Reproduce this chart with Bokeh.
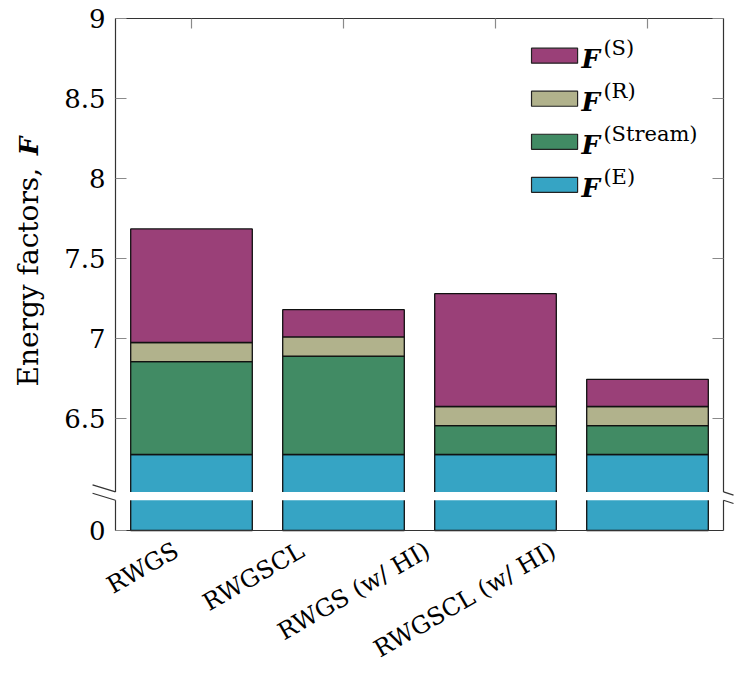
import math

from bokeh.core.properties import value
from bokeh.embed import file_html
from bokeh.models import (ColumnDataSource, FixedTicker, Label, LinearAxis,
                          Range1d)
from bokeh.plotting import figure
from bokeh.resources import INLINE

# ---- data -----------------------------------------------------------------
categories = ["RWGS", "RWGSCL", "RWGS (w/ HI)", "RWGSCL (w/ HI)"]

# stacked from the bottom up
series_keys = ["E", "Stream", "R", "S"]
f_e = [6.275, 6.275, 6.275, 6.275]
f_stream = [0.58, 0.615, 0.18, 0.18]
f_r = [0.12, 0.12, 0.12, 0.12]
f_s = [0.71, 0.17, 0.705, 0.17]
series_colors = ["#36A4C4", "#418B64", "#B1B28C", "#9A4078"]

y_ticks = [6.5, 7, 7.5, 8, 8.5, 9]
y_tick_labels = ["6.5", "7", "7.5", "8", "8.5", "9"]

# ---- broken axis ------------------------------------------------------------
Y_FLOOR = 5.8      # where a value of 0 is drawn
Y_TOP = 9.0
BREAK_LO, BREAK_HI = 5.989, 6.041   # gap in the axis
X_LO, X_HI = -0.5, 3.5


def to_axis(v):
    """Values below 6 are squeezed into the strip under the break."""
    return v if v >= 6.0 else Y_FLOOR + v * (6.0 - Y_FLOOR) / 6.0


# The drawing area covers the whole canvas; the axes are pinned to the box
# edges so that the break strokes can poke out past the box.
W, H = 735, 673
BOX_LEFT, BOX_RIGHT, BOX_TOP, BOX_BOTTOM = 115, 12, 18, 143   # margins in px
px_x = (W - BOX_LEFT - BOX_RIGHT) / (X_HI - X_LO)
px_y = (H - BOX_TOP - BOX_BOTTOM) / (Y_TOP - Y_FLOOR)

SERIF = "DejaVu Serif"
AXIS_COLOR = "#333333"
TICK_COLOR = "#8a8a8a"

p = figure(width=W, height=H, output_backend="svg", toolbar_location=None,
           x_range=Range1d(X_LO - BOX_LEFT / px_x, X_HI + BOX_RIGHT / px_x),
           y_range=Range1d(Y_FLOOR - BOX_BOTTOM / px_y, Y_TOP + BOX_TOP / px_y),
           x_axis_location=None, y_axis_location=None, min_border=0)
p.grid.visible = False
p.outline_line_color = None
p.background_fill_color = "white"
p.border_fill_color = "white"

# ---- stacked bars -----------------------------------------------------------
xs = list(range(len(categories)))
stack = [f_e, f_stream, f_r, f_s]
running = [0.0] * len(categories)
for vals, color in zip(stack, series_colors):
    bottoms = [to_axis(b) for b in running]
    running = [b + v for b, v in zip(running, vals)]
    tops = [to_axis(t) for t in running]
    src = ColumnDataSource(dict(x=xs, bottom=bottoms, top=tops))
    p.vbar(x="x", width=0.8, bottom="bottom", top="top", source=src,
           fill_color=color, line_color="#111111", line_width=1.3)

# white gap across the bars
p.quad(left=[X_LO], right=[X_HI], bottom=[BREAK_LO], top=[BREAK_HI],
       fill_color="white", line_color=None)

# box sides, interrupted at the gap, and the slanted break strokes
DROP_L = 0.044   # fall of a break stroke across the left margin
DROP_R = 0.02    # ... and across the right margin
edge_src = ColumnDataSource(dict(
    x0=[X_LO, X_LO, X_HI, X_HI,
        X_LO - 0.151, X_LO - 0.151, X_HI, X_HI],
    y0=[Y_FLOOR, BREAK_HI, Y_FLOOR, BREAK_HI,
        BREAK_HI + DROP_L, BREAK_LO + DROP_L, BREAK_HI, BREAK_LO],
    x1=[X_LO, X_LO, X_HI, X_HI,
        X_LO, X_LO, X_HI + 0.066, X_HI + 0.066],
    y1=[BREAK_LO, Y_TOP, BREAK_LO, Y_TOP,
        BREAK_HI, BREAK_LO, BREAK_HI - DROP_R, BREAK_LO - DROP_R],
))
p.segment(x0="x0", y0="y0", x1="x1", y1="y1", source=edge_src,
          line_color=AXIS_COLOR, line_width=1.2)

# ---- axes -------------------------------------------------------------------
left_ticks = [Y_FLOOR] + y_ticks
left_overrides = {Y_FLOOR: "0"}
left_overrides.update({t: s for t, s in zip(y_ticks, y_tick_labels)})


def style_axis(ax, tick_in):
    ax.axis_line_color = AXIS_COLOR
    ax.axis_line_width = 1.2
    ax.major_tick_line_color = TICK_COLOR
    ax.major_tick_line_width = 1.2
    ax.major_tick_in = tick_in
    ax.major_tick_out = 0
    ax.minor_tick_line_color = None
    ax.major_label_text_font = SERIF
    ax.major_label_text_color = "black"


def mirror_axis(ticks, tick_in, where, bounds):
    ax = LinearAxis(ticker=FixedTicker(ticks=ticks), fixed_location=where,
                    bounds=bounds, major_label_overrides={t: "" for t in ticks})
    style_axis(ax, tick_in)
    ax.major_label_text_color = None
    ax.major_label_standoff = 0
    return ax


yl = LinearAxis(ticker=FixedTicker(ticks=left_ticks), fixed_location=X_LO,
                bounds=(Y_FLOOR, Y_TOP), major_label_overrides=left_overrides)
style_axis(yl, 11)
yl.axis_line_color = None          # the side is drawn in two pieces above
yl.major_label_text_font_size = "26px"
yl.major_label_standoff = 10
p.add_layout(yl, "left")

yr = mirror_axis(y_ticks, 11, X_HI, (Y_FLOOR, Y_TOP))
yr.axis_line_color = None
p.add_layout(yr, "right")
p.add_layout(mirror_axis(xs, 10, Y_TOP, (X_LO, X_HI)), "above")

# category names sit a little left of their bars, drifting further with length
label_pos = [i - (0.099 + 0.173 * i) for i in xs]
xb = LinearAxis(ticker=FixedTicker(ticks=label_pos), fixed_location=Y_FLOOR,
                bounds=(X_LO, X_HI),
                major_label_overrides={t: c for t, c in zip(label_pos, categories)})
style_axis(xb, 0)
xb.major_tick_line_color = None
xb.major_label_text_font_size = "24px"
xb.major_label_orientation = math.pi / 6
xb.major_label_standoff = 18
p.add_layout(xb, "below")

# ---- y-axis title -----------------------------------------------------------
TITLE_X = -1.072
p.add_layout(Label(x=TITLE_X, y=6.70, text="Energy factors,", angle=math.pi / 2,
                   text_font=SERIF, text_font_size="28px", text_color="black",
                   text_align="left", text_baseline="alphabetic"))
p.add_layout(Label(x=TITLE_X, y=8.145, text="F", angle=math.pi / 2,
                   text_font=SERIF, text_font_style="bold italic",
                   text_font_size="26px", text_color="black",
                   text_align="left", text_baseline="alphabetic"))

# ---- legend (top entry is the top of the stack) -------------------------------
LEG_X0, LEG_X1 = 2.237, 2.54
LEG_TEXT_X, LEG_SUP_X = 2.565, 2.71
LEG_TOP_Y = 8.7675      # centre of the first swatch
LEG_STEP = 0.269
LEG_HALF_H = 0.047

order = list(range(len(series_keys)))[::-1]
centres = [LEG_TOP_Y - i * LEG_STEP for i in range(len(order))]
leg_src = ColumnDataSource(dict(
    left=[LEG_X0] * len(order), right=[LEG_X1] * len(order),
    bottom=[c - LEG_HALF_H for c in centres], top=[c + LEG_HALF_H for c in centres],
    color=[series_colors[k] for k in order],
    main_x=[LEG_TEXT_X] * len(order), main_y=[c - 0.02 for c in centres],
    main=["F"] * len(order),
    sup_x=[LEG_SUP_X] * len(order), sup_y=[c + 0.05 for c in centres],
    sup=["(" + series_keys[k] + ")" for k in order],
))
p.quad(left="left", right="right", bottom="bottom", top="top", source=leg_src,
       fill_color="color", line_color="#222222", line_width=1.2)
p.text(x="main_x", y="main_y", text="main", source=leg_src,
       text_font=value(SERIF), text_font_style="bold italic",
       text_font_size="26px", text_color="black",
       text_align="left", text_baseline="alphabetic")
p.text(x="sup_x", y="sup_y", text="sup", source=leg_src,
       text_font=value(SERIF), text_font_size="21px", text_color="black",
       text_align="left", text_baseline="alphabetic")

open("out.html", "w").write(file_html(p, INLINE))
